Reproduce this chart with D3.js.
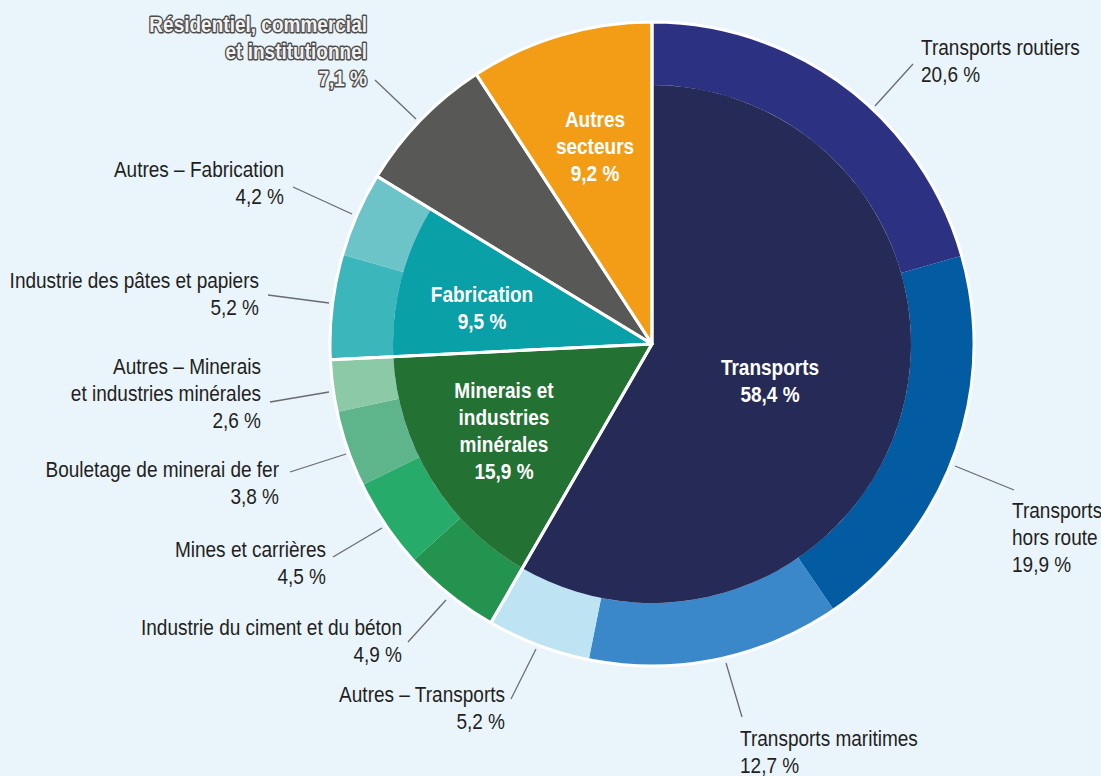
<!DOCTYPE html>
<html>
<head>
<meta charset="utf-8">
<script src="https://cdn.jsdelivr.net/npm/d3@7"></script>
<style>
  body { margin: 0; background: #eaf4fb; }
  svg { display: block; }
  text { font-family: "Liberation Sans", Arial, sans-serif; }
</style>
</head>
<body>
<div id="chart"></div>
<script>
const width = 1101, height = 776;

// inner ring : sectors
const groups = ["Transports", "Minerais et industries minérales", "Fabrication",
  "Résidentiel, commercial et institutionnel", "Autres secteurs"];
const groupValues = [58.4, 15.9, 9.5, 7.1, 9.2];
const groupColors = ["#252a56", "#237233", "#0aa0a8", "#585857", "#f39c16"];

// outer ring : sub-sectors (group index, name, value)
const subGroups = [0, 0, 0, 0, 1, 1, 1, 1, 2, 2];
const subNames = ["Transports routiers", "Transports hors route", "Transports maritimes",
  "Autres – Transports", "Industrie du ciment et du béton", "Mines et carrières",
  "Bouletage de minerai de fer", "Autres – Minerais et industries minérales",
  "Industrie des pâtes et papiers", "Autres – Fabrication"];
const subValues = [20.6, 19.9, 12.7, 5.2, 4.9, 4.5, 3.8, 2.6, 5.2, 4.2];
const subColors = ["#2c3181", "#035ca1", "#3a88c9", "#bee3f2", "#24934f", "#27ab6b",
  "#5fb58b", "#8cc9a7", "#3bb6bb", "#6dc4c8"];

// label text
const subLabelLines = [
  ["Transports routiers", "20,6 %"],
  ["Transports", "hors route", "19,9 %"],
  ["Transports maritimes", "12,7 %"],
  ["Autres – Transports", "5,2 %"],
  ["Industrie du ciment et du béton", "4,9 %"],
  ["Mines et carrières", "4,5 %"],
  ["Bouletage de minerai de fer", "3,8 %"],
  ["Autres – Minerais", "et industries minérales", "2,6 %"],
  ["Industrie des pâtes et papiers", "5,2 %"],
  ["Autres – Fabrication", "4,2 %"]
];
const groupLabelLines = [
  ["Transports", "58,4 %"],
  ["Minerais et", "industries", "minérales", "15,9 %"],
  ["Fabrication", "9,5 %"],
  ["Résidentiel, commercial", "et institutionnel", "7,1 %"],
  ["Autres", "secteurs", "9,2 %"]
];

// layout of the callouts: text anchor point and leader line
const subLabelPos = [
  { x: 921, y: 55, anchor: "start", from: [875, 106], to: [913, 64] },
  { x: 1012, y: 518, anchor: "start", from: [955, 466], to: [1014, 490] },
  { x: 740, y: 746, anchor: "start", from: [726, 663], to: [742, 717] },
  { x: 505, y: 702, anchor: "end", from: [536, 649], to: [511, 699] },
  { x: 402, y: 635, anchor: "end", from: [446, 600], to: [408, 642] },
  { x: 326, y: 557, anchor: "end", from: [382, 528], to: [333, 557] },
  { x: 279, y: 477, anchor: "end", from: [346, 454], to: [290, 472] },
  { x: 261, y: 374, anchor: "end", from: [329, 392], to: [270, 402] },
  { x: 259, y: 288, anchor: "end", from: [329, 303], to: [268, 295] },
  { x: 284, y: 177, anchor: "end", from: [352, 214], to: [293, 187] }
];
const groupLabelPos = [
  { x: 770, y: 375 },
  { x: 504, y: 398 },
  { x: 482, y: 302 },
  { x: 367, y: 32, anchor: "end", from: [416, 119], to: [375, 80] },
  { x: 595, y: 127 }
];

const cx = 652, cy = 344, rOuter = 322, rInner = 259, lineH = 27;
const fontSize = 22, squeeze = 0.865; // condensed look

const svg = d3.select("#chart").append("svg")
  .attr("width", width)
  .attr("height", height);

svg.append("rect").attr("width", width).attr("height", height).attr("fill", "#eaf4fb");

const g = svg.append("g").attr("transform", `translate(${cx},${cy})`);

const pie = d3.pie().sort(null).value(d => d);
const groupArcs = pie(groupValues);

const arcInner = d3.arc().innerRadius(0).outerRadius(rInner);
const arcFull = d3.arc().innerRadius(0).outerRadius(rOuter);
const arcRing = d3.arc().innerRadius(rInner).outerRadius(rOuter);

const hasSubs = i => subGroups.includes(i);

// outer ring pieces, split inside each parent sector
const subArcs = [];
groupArcs.forEach((ga, gi) => {
  const idx = subGroups.map((s, i) => s === gi ? i : -1).filter(i => i >= 0);
  if (!idx.length) return;
  d3.pie().sort(null).value(i => subValues[i])
    .startAngle(ga.startAngle).endAngle(ga.endAngle)(idx)
    .forEach(a => subArcs.push(a));
});

g.selectAll("path.sub")
  .data(subArcs)
  .join("path")
  .attr("class", "sub")
  .attr("d", arcRing)
  .attr("fill", d => subColors[d.data]);

g.selectAll("path.grp")
  .data(groupArcs)
  .join("path")
  .attr("class", "grp")
  .attr("d", (d, i) => hasSubs(i) ? arcInner(d) : arcFull(d))
  .attr("fill", (d, i) => groupColors[i]);

// white separators between sectors and around the edge
g.selectAll("path.sep")
  .data(groupArcs)
  .join("path")
  .attr("class", "sep")
  .attr("d", arcFull)
  .attr("fill", "none")
  .attr("stroke", "#fff")
  .attr("stroke-width", 3)
  .attr("stroke-linejoin", "round");

// multi-line text block, squeezed horizontally
function textBlock(parent, x, y, lines, anchor) {
  const t = parent.append("text")
    .attr("transform", `translate(${x},${y}) scale(${squeeze},1)`)
    .attr("text-anchor", anchor)
    .attr("font-size", fontSize);
  lines.forEach((s, k) => {
    t.append("tspan").attr("x", 0).attr("y", k * lineH).text(s);
  });
  return t;
}

function leader(parent, p) {
  parent.append("line")
    .attr("x1", p.from[0]).attr("y1", p.from[1])
    .attr("x2", p.to[0]).attr("y2", p.to[1])
    .attr("stroke", "#6b6b6b").attr("stroke-width", 1.3);
}

// callouts
const callouts = svg.append("g");
subLabelPos.forEach((p, i) => {
  leader(callouts, p);
  textBlock(callouts, p.x, p.y, subLabelLines[i], p.anchor).attr("fill", "#231f20");
});

// sector labels
groupLabelPos.forEach((p, i) => {
  const outside = i === 3;
  if (outside) leader(callouts, p);
  const t = textBlock(svg, p.x, p.y, groupLabelLines[i], outside ? "end" : "middle")
    .attr("font-weight", "bold")
    .attr("fill", outside ? "#f2f2f2" : "#fff");
  if (outside) {
    t.attr("stroke", "#4d4d4d").attr("stroke-width", 3)
      .attr("paint-order", "stroke").attr("stroke-linejoin", "round");
  }
});
</script>
</body>
</html>
